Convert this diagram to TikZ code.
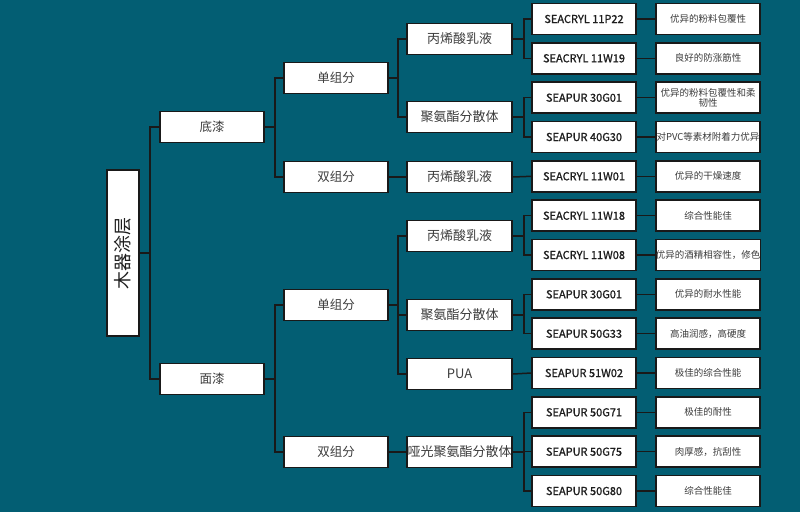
\documentclass[tikz,border=0pt]{standalone}
\usepackage{fontspec}
\setmainfont{Noto Sans CJK SC}
\newfontfamily\codefont{Noto Sans CJK SC}[FakeBold=1.2]
\usepackage{tikz}
\definecolor{colbg}{RGB}{3,94,115}
\definecolor{coltxt}{RGB}{60,60,60}
\definecolor{colcode}{RGB}{30,30,30}

\tikzset{
  box/.style={draw=black!90, line width=1.5pt, fill=white, inner sep=0pt,
    minimum height=31, text=coltxt},
  lvA/.style={box, minimum width=104, font=\fontsize{12.5}{14}\selectfont},
  lvB/.style={box, minimum width=105, font=\fontsize{13}{15}\selectfont},
  lvC/.style={box, minimum width=104, text=colcode, font=\codefont\fontsize{11}{12}\selectfont},
  lvD/.style={box, minimum width=104, align=center, font=\fontsize{9.5}{10.5}\selectfont},
  link/.style={draw=black!90, line width=1.5pt}
}

\begin{document}
\begin{tikzpicture}[x=1pt, y=-1pt]
  \fill[colbg] (0,0) rectangle (800,512);
  \useasboundingbox (0,0) rectangle (800,512);
  % root
  \node[box, minimum width=32, minimum height=166,
    label={[rotate=90, text=colcode, font=\fontsize{18}{18}\selectfont]center:木器涂层}] (root) at (123,253) {};
  % level 1
  \node[lvA] (diqi) at (212,127) {底漆};
  \node[lvA] (mianqi) at (212,379) {面漆};
  % level 2
  \node[lvA] (danA) at (336,78) {单组分};
  \node[lvA] (shuangA) at (336,177) {双组分};
  \node[lvA] (danB) at (336,305) {单组分};
  \node[lvA] (shuangB) at (336,452) {双组分};
  % level 3
  \node[lvB] (bxA) at (459.5,39) {丙烯酸乳液};
  \node[lvB] (jqA) at (459.5,117) {聚氨酯分散体};
  \node[lvB] (bxB) at (459.5,177) {丙烯酸乳液};
  \node[lvB] (bxC) at (459.5,236) {丙烯酸乳液};
  \node[lvB] (jqB) at (459.5,315) {聚氨酯分散体};
  \node[lvB] (pua) at (459.5,374) {PUA};
  \node[lvB] (yg) at (459.5,452) {哑光聚氨酯分散体};
  % level 4 products
  \node[lvC] (p1) at (584,19) {SEACRYL 11P22};
  \node[lvC] (p2) at (584,58.3) {SEACRYL 11W19};
  \node[lvC] (p3) at (584,97.7) {SEAPUR 30G01};
  \node[lvC] (p4) at (584,137) {SEAPUR 40G30};
  \node[lvC] (p5) at (584,176.3) {SEACRYL 11W01};
  \node[lvC] (p6) at (584,215.7) {SEACRYL 11W18};
  \node[lvC] (p7) at (584,255) {SEACRYL 11W08};
  \node[lvC] (p8) at (584,294.3) {SEAPUR 30G01};
  \node[lvC] (p9) at (584,333.7) {SEAPUR 50G33};
  \node[lvC] (p10) at (584,373) {SEAPUR 51W02};
  \node[lvC] (p11) at (584,412.3) {SEAPUR 50G71};
  \node[lvC] (p12) at (584,451.7) {SEAPUR 50G75};
  \node[lvC] (p13) at (584,491) {SEAPUR 50G80};
  % level 5 properties
  \node[lvD] (q1) at (708,19) {优异的粉料包覆性};
  \node[lvD] (q2) at (708,58.3) {良好的防涨筋性};
  \node[lvD] (q3) at (708,97.7) {优异的粉料包覆性和柔\\韧性};
  \node[lvD] (q4) at (708,137) {对PVC等素材附着力优异};
  \node[lvD] (q5) at (708,176.3) {优异的干燥速度};
  \node[lvD] (q6) at (708,215.7) {综合性能佳};
  \node[lvD] (q7) at (708,255) {优异的酒精相容性，修色};
  \node[lvD] (q8) at (708,294.3) {优异的耐水性能};
  \node[lvD] (q9) at (708,333.7) {高油润感，高硬度};
  \node[lvD] (q10) at (708,373) {极佳的综合性能};
  \node[lvD] (q11) at (708,412.3) {极佳的耐性};
  \node[lvD] (q12) at (708,451.7) {肉厚感，抗刮性};
  \node[lvD] (q13) at (708,491) {综合性能佳};
  % connectors
  \draw[link] (root.east) -- ++(10,0) |- (diqi.west);
  \draw[link] (root.east) -- ++(10,0) |- (mianqi.west);
  \draw[link] (diqi.east) -- ++(10,0) |- (danA.west);
  \draw[link] (diqi.east) -- ++(10,0) |- (shuangA.west);
  \draw[link] (mianqi.east) -- ++(10,0) |- (danB.west);
  \draw[link] (mianqi.east) -- ++(10,0) |- (shuangB.west);
  \draw[link] (danA.east) -- ++(9,0) |- (bxA.west);
  \draw[link] (danA.east) -- ++(9,0) |- (jqA.west);
  \draw[link] (shuangA.east) -- (bxB.west);
  \draw[link] (danB.east) -- ++(9,0) |- (bxC.west);
  \draw[link] (danB.east) -- ++(9,0) |- (jqB.west);
  \draw[link] (danB.east) -- ++(9,0) |- (pua.west);
  \draw[link] (shuangB.east) -- (yg.west);
  \draw[link] (bxA.east) -- ++(11,0) |- (p1.west);
  \draw[link] (bxA.east) -- ++(11,0) |- (p2.west);
  \draw[link] (jqA.east) -- ++(11,0) |- (p3.west);
  \draw[link] (jqA.east) -- ++(11,0) |- (p4.west);
  \draw[link] (bxB.east) -- (p5.west);
  \draw[link] (bxC.east) -- ++(11,0) |- (p6.west);
  \draw[link] (bxC.east) -- ++(11,0) |- (p7.west);
  \draw[link] (jqB.east) -- ++(11,0) |- (p8.west);
  \draw[link] (jqB.east) -- ++(11,0) |- (p9.west);
  \draw[link] (pua.east) -- (p10.west);
  \draw[link] (yg.east) -- ++(11,0) |- (p11.west);
  \draw[link] (yg.east) -- ++(11,0) |- (p12.west);
  \draw[link] (yg.east) -- ++(11,0) |- (p13.west);
  \foreach \i in {1,...,13} \draw[link] (p\i.east) -- (q\i.west);
\end{tikzpicture}
\end{document}
